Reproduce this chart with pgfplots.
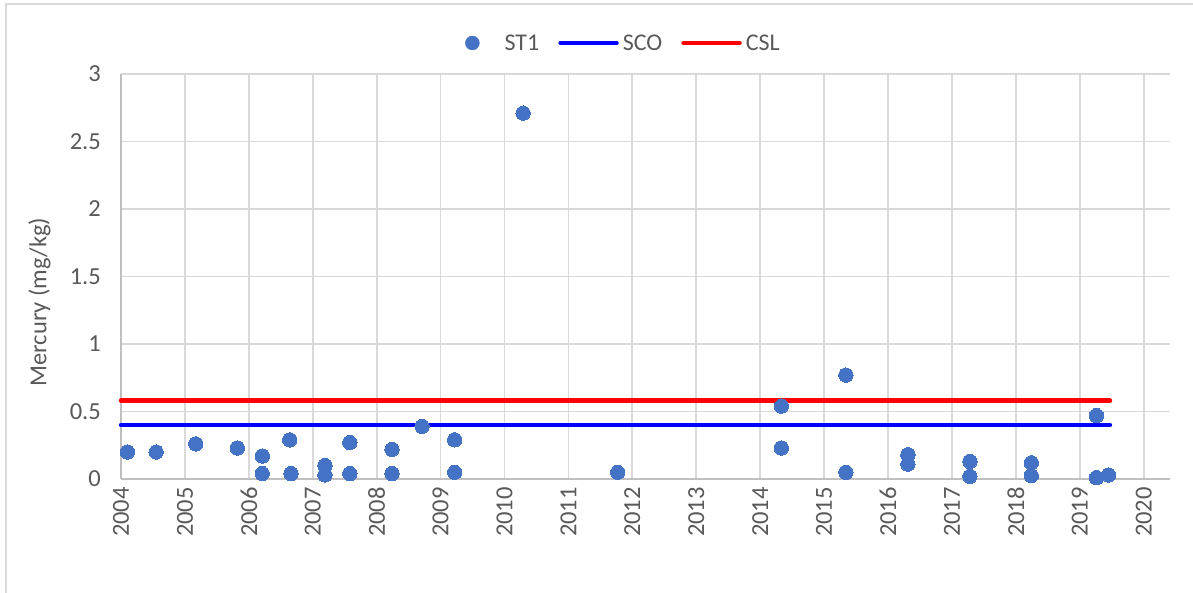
\documentclass[border=0pt]{standalone}
\usepackage{pgfplots}
\pgfplotsset{compat=1.18}
\usepackage{fontspec}
\setmainfont{Carlito}
\definecolor{dotblue}{HTML}{4472C4}
\definecolor{txt}{HTML}{595959}
\definecolor{gridc}{HTML}{D9D9D9}
\definecolor{axisc}{HTML}{BFBFBF}
\begin{document}
\begin{tikzpicture}
\begin{axis}[
  at={(0pt,0pt)}, anchor=south west,
  scale only axis, width=1049pt, height=405pt,
  xmin=2004, xmax=2020.41, ymin=0, ymax=3,
  xtick={2004,...,2020}, ytick={0,0.5,1,1.5,2,2.5,3},
  /pgf/number format/1000 sep={},
  /pgf/number format/assume math mode=true,
  grid=major, major grid style={gridc, line width=1.8pt},
  axis lines*=left, axis line style={axisc, line width=1.8pt, -},
  major tick length=0pt,
  ticklabel style={font=\fontsize{24.5}{26}\selectfont, text=txt, inner sep=0pt},
  xticklabel style={rotate=90, anchor=east},
  xticklabel shift=8pt,
  yticklabel style={anchor=east},
  yticklabel shift=20pt,
  ylabel={Mercury (mg/kg)},
  ylabel style={at={(axis description cs:-0.0777,0.437)}, anchor=center, font=\fontsize{24.5}{26}\selectfont, text=txt},
  legend style={at={(axis description cs:0.468,1.0765)}, anchor=center, draw=none, fill=none,
    font=\fontsize{24}{26}\selectfont, text=txt, inner sep=0pt,
    /tikz/every odd column/.append style={column sep=4pt},
    /tikz/every even column/.append style={column sep=19pt},
    nodes={inner sep=0pt}},
  legend columns=-1,
  clip=false,
]
\addplot[only marks, color=dotblue, mark=*, mark size=7.2pt, mark options={fill=dotblue, draw=dotblue, line width=0pt},
  legend image code/.code={\path (0pt,0pt) (56pt,0pt);\fill[dotblue] (28pt,0pt) circle (7pt);}]
  coordinates {
  (2004.10,0.20) (2004.55,0.20) (2005.17,0.26) (2005.82,0.23)
  (2006.21,0.17) (2006.21,0.04) (2006.64,0.29) (2006.66,0.04)
  (2007.19,0.10) (2007.19,0.03) (2007.58,0.27) (2007.58,0.04)
  (2008.24,0.22) (2008.24,0.04) (2008.71,0.39) (2009.22,0.29)
  (2009.22,0.05) (2010.29,2.71) (2011.77,0.05) (2014.33,0.54)
  (2014.33,0.23) (2015.34,0.05) (2015.34,0.77) (2016.31,0.18)
  (2016.31,0.11) (2017.28,0.13) (2017.28,0.02) (2018.24,0.12)
  (2018.24,0.025) (2019.26,0.47) (2019.26,0.01) (2019.45,0.03)
  };
\addlegendentry{ST1}
\addplot[blue, line width=4.5pt, line cap=round, no marks,
  legend image code/.code={\draw[blue, line width=4.5pt, line cap=round] (0pt,0pt) -- (56pt,0pt);}]
  coordinates {(2004,0.40) (2019.47,0.40)};
\addlegendentry{SCO}
\addplot[red, line width=4.5pt, line cap=round, no marks,
  legend image code/.code={\draw[red, line width=4.5pt, line cap=round] (0pt,0pt) -- (56pt,0pt);}]
  coordinates {(2004,0.58) (2019.47,0.58)};
\addlegendentry{CSL}
\end{axis}
\draw[gridc, line width=1.5pt] (-115pt,-120pt) -- (-115pt,475pt) -- (1080pt,475pt);
\pgfresetboundingbox
\useasboundingbox (-121pt,-113pt) rectangle (1072pt,479pt);
\end{tikzpicture}
\end{document}
